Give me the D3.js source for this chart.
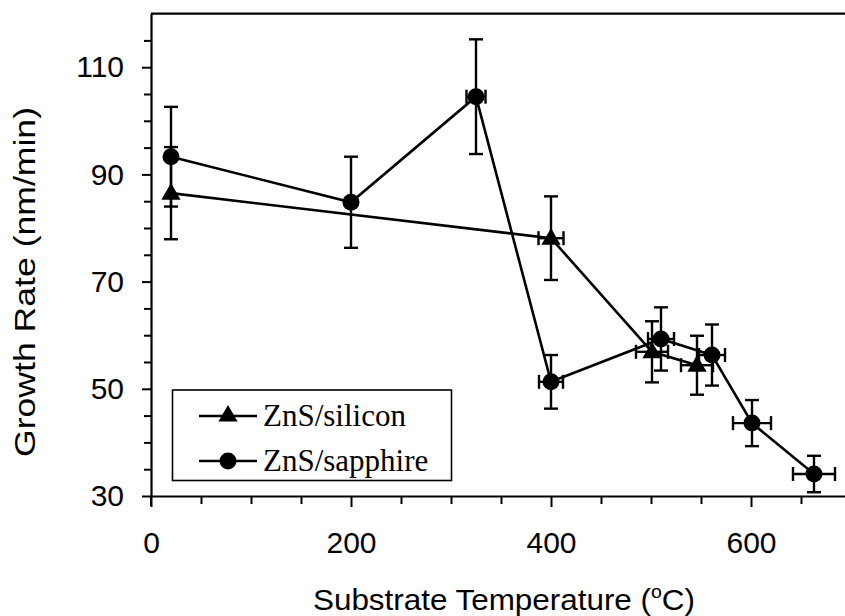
<!DOCTYPE html>
<html>
<head>
<meta charset="utf-8">
<script src="https://cdn.jsdelivr.net/npm/d3@7/dist/d3.min.js"></script>
<style>
  html, body { margin: 0; padding: 0; background: #fff; }
  svg { display: block; }
</style>
</head>
<body>
<script>
// ---- data ----
const siliconTemp = [20, 400, 501, 546];
const siliconRate = [86.5, 78.1, 56.9, 54.4];
const siliconYErr = [8.6, 7.8, 5.7, 5.5];
const siliconXErr = [0, 12.5, 16, 16];

const sapphireTemp = [20, 200, 325, 400, 510, 561, 601, 663];
const sapphireRate = [93.3, 84.8, 104.5, 51.3, 59.3, 56.3, 43.6, 34.1];
const sapphireYErr = [9.3, 8.5, 10.7, 5.0, 5.9, 5.7, 4.3, 3.4];
const sapphireXErr = [0, 0, 9.5, 12, 13, 13, 19, 21];

const xMajorTicks = [0, 200, 400, 600];
const xMinorTicks = [50, 100, 150, 250, 300, 350, 450, 500, 550, 650];
const yMajorTicks = [30, 50, 70, 90, 110];
const yMinorTicks = [35, 40, 45, 55, 60, 65, 75, 80, 85, 95, 100, 105, 115];

const seriesNames = ["ZnS/silicon", "ZnS/sapphire"];

// ---- layout ----
const W = 845, H = 616;
const svg = d3.select("body").append("svg").attr("width", W).attr("height", H);

const x = d3.scaleLinear().domain([0, 694]).range([151, 845]);
const y = d3.scaleLinear().domain([30, 120]).range([496, 13.6]);

const sans = "'Liberation Sans', Arial, sans-serif";
const serif = "'Liberation Serif', 'Times New Roman', serif";

// frame: top line
svg.append("line")
  .attr("x1", x(0)).attr("x2", W).attr("y1", y(120)).attr("y2", y(120))
  .attr("stroke", "#000").attr("stroke-width", 2.2);

// x axis
const xMajor = svg.append("g").attr("transform", `translate(0,${y(30)})`)
  .call(d3.axisBottom(x).tickValues(xMajorTicks).tickSize(11).tickSizeOuter(0).tickPadding(25).tickFormat(d3.format("d")));
const xMinor = svg.append("g").attr("transform", `translate(0,${y(30)})`)
  .call(d3.axisBottom(x).tickValues(xMinorTicks).tickSize(8).tickSizeOuter(0).tickFormat(""));
xMinor.select(".domain").remove();

// y axis
const yMajor = svg.append("g").attr("transform", `translate(${x(0)},0)`)
  .call(d3.axisLeft(y).tickValues(yMajorTicks).tickSize(9).tickSizeOuter(0).tickPadding(18).tickFormat(d3.format("d")));
const yMinor = svg.append("g").attr("transform", `translate(${x(0)},0)`)
  .call(d3.axisLeft(y).tickValues(yMinorTicks).tickSize(7).tickSizeOuter(0).tickFormat(""));
yMinor.select(".domain").remove();

// extend y axis slightly below x axis (corner tick)
svg.append("line").attr("x1", x(0)).attr("x2", x(0)).attr("y1", y(30)).attr("y2", y(30) + 10)
  .attr("stroke", "#000").attr("stroke-width", 2);

svg.selectAll(".domain").attr("stroke", "#000").attr("stroke-width", 2.2);
svg.selectAll(".tick line").attr("stroke", "#000").attr("stroke-width", 2);
svg.selectAll(".tick text").attr("font-family", sans).attr("font-size", 30).attr("fill", "#000");

// axis titles
const xt = svg.append("text").attr("x", 504).attr("y", 610)
  .attr("text-anchor", "middle").attr("font-family", sans).attr("font-size", 29).attr("fill", "#000")
  .attr("textLength", 382).attr("lengthAdjust", "spacingAndGlyphs");
xt.append("tspan").text("Substrate Temperature (");
xt.append("tspan").text("o").attr("font-size", 18).attr("dy", -12);
xt.append("tspan").text("C)").attr("dy", 12);

svg.append("text").attr("transform", "translate(35,282) rotate(-90)")
  .attr("text-anchor", "middle").attr("font-family", sans).attr("font-size", 29).attr("fill", "#000")
  .attr("textLength", 350).attr("lengthAdjust", "spacingAndGlyphs")
  .text("Growth Rate (nm/min)");

// ---- series ----
function makeSeries(temps, rates, yErr, xErr) {
  return temps.map((t, i) => ({ t, r: rates[i], ye: yErr[i], xe: xErr[i] }));
}
const silicon = makeSeries(siliconTemp, siliconRate, siliconYErr, siliconXErr);
const sapphire = makeSeries(sapphireTemp, sapphireRate, sapphireYErr, sapphireXErr);

const line = d3.line().x(d => x(d.t)).y(d => y(d.r));
const capH = 7;

function drawErrors(data) {
  const g = svg.append("g").attr("stroke", "#000").attr("stroke-width", 2.4).attr("fill", "none");
  data.forEach(d => {
    const cx = x(d.t), cy = y(d.r);
    const y1 = y(d.r + d.ye), y2 = y(d.r - d.ye);
    g.append("line").attr("x1", cx).attr("x2", cx).attr("y1", y1).attr("y2", y2);
    g.append("line").attr("x1", cx - capH).attr("x2", cx + capH).attr("y1", y1).attr("y2", y1);
    g.append("line").attr("x1", cx - capH).attr("x2", cx + capH).attr("y1", y2).attr("y2", y2);
    if (d.xe > 0) {
      const x1 = x(d.t - d.xe), x2 = x(d.t + d.xe);
      g.append("line").attr("x1", x1).attr("x2", x2).attr("y1", cy).attr("y2", cy);
      g.append("line").attr("x1", x1).attr("x2", x1).attr("y1", cy - capH).attr("y2", cy + capH);
      g.append("line").attr("x1", x2).attr("x2", x2).attr("y1", cy - capH).attr("y2", cy + capH);
    }
  });
}

drawErrors(silicon);
drawErrors(sapphire);

svg.append("path").datum(silicon).attr("d", line)
  .attr("fill", "none").attr("stroke", "#000").attr("stroke-width", 2.6);
svg.append("path").datum(sapphire).attr("d", line)
  .attr("fill", "none").attr("stroke", "#000").attr("stroke-width", 2.6);

const tri = d3.symbol().type(d3.symbolTriangle).size(160);
svg.append("g").selectAll("path").data(silicon).join("path")
  .attr("d", tri).attr("transform", d => `translate(${x(d.t)},${y(d.r) + 1})`).attr("fill", "#000");
svg.append("g").selectAll("circle").data(sapphire).join("circle")
  .attr("cx", d => x(d.t)).attr("cy", d => y(d.r)).attr("r", 8.5).attr("fill", "#000");

// ---- legend ----
const lg = svg.append("g");
lg.append("rect").attr("x", 172.5).attr("y", 390).attr("width", 279).attr("height", 90.5)
  .attr("fill", "#fff").attr("stroke", "#000").attr("stroke-width", 1.6);
const rows = [416, 461];
seriesNames.forEach((name, i) => {
  const ry = rows[i];
  lg.append("line").attr("x1", 199).attr("x2", 257).attr("y1", ry).attr("y2", ry)
    .attr("stroke", "#000").attr("stroke-width", 2.4);
  if (i === 0) {
    lg.append("path").attr("d", tri).attr("transform", `translate(228,${ry})`).attr("fill", "#000");
  } else {
    lg.append("circle").attr("cx", 228).attr("cy", ry).attr("r", 8.5).attr("fill", "#000");
  }
  lg.append("text").attr("x", 263).attr("y", ry + 10)
    .attr("font-family", serif).attr("font-size", 31).attr("fill", "#000").text(name);
});
</script>
</body>
</html>
